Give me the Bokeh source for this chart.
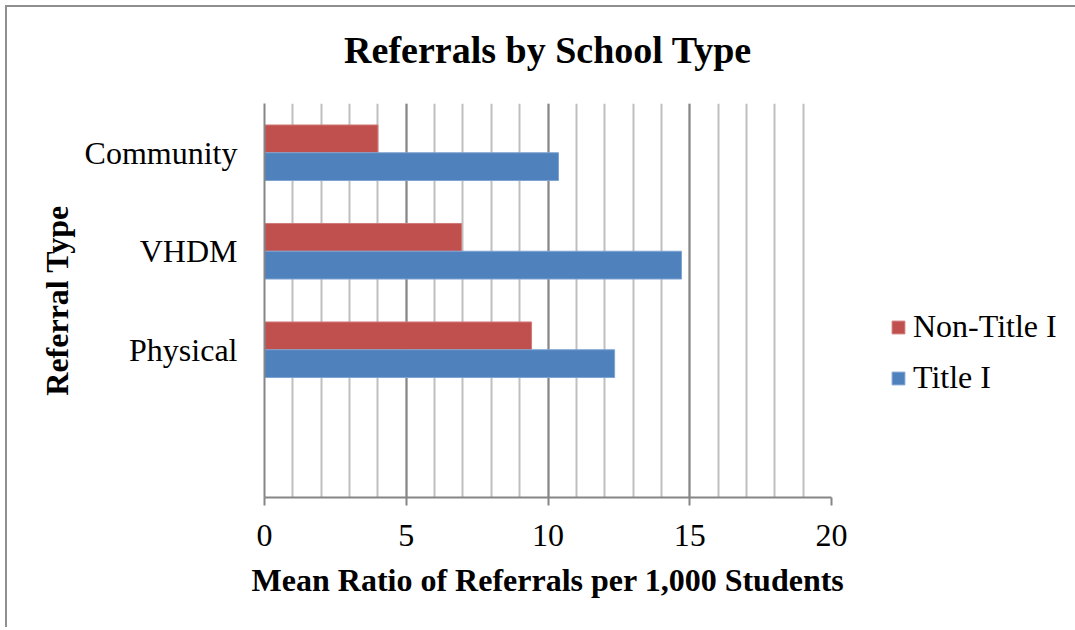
from bokeh.plotting import figure
from bokeh.models import FixedTicker, Legend, LegendItem, Title
from bokeh.transform import dodge
from bokeh.embed import file_html
from bokeh.resources import INLINE

# Data
categories = [" ", "Physical", "VHDM", "Community"]   # bottom slot is empty in the original
non_title_i = [0, 9.42, 6.95, 4.0]
title_i = [0, 12.35, 14.71, 10.37]
series_names = ["Non-Title I", "Title I"]
x_ticks = [0, 5, 10, 15, 20]
chart_title = "Referrals by School Type"

RED = "#C0504D"
BLUE = "#4F81BD"
FONT = "Liberation Serif"

data = dict(cat=categories[1:], non=non_title_i[1:], tit=title_i[1:])

p = figure(frame_width=567, frame_height=394, y_range=categories, x_range=(0, 20),
           output_backend="svg", toolbar_location=None,
           min_border_left=257, min_border_right=0,
           min_border_top=96, min_border_bottom=130,
           title=chart_title)
p.y_range.range_padding = 0
p.styles = {"margin-left": "5px", "margin-top": "5px",
            "border-left": "2px solid #8f8f8f", "border-top": "2px solid #8f8f8f"}
p.outline_line_color = None

bh = 0.282
r_non = p.hbar(y=dodge("cat", bh / 2, range=p.y_range), right="non", left=0, height=bh,
               source=data, fill_color=RED, line_color="#d07a78", line_width=1)
r_tit = p.hbar(y=dodge("cat", -bh / 2, range=p.y_range), right="tit", left=0, height=bh,
               source=data, fill_color=BLUE, line_color="#7ea3d2", line_width=1)

# spacer between the plot area and the title (white dot on white, not visible)
p.add_layout(Title(text=".", text_font_size="2px", text_color="white", standoff=30), "above")

# title
p.title.text_font = FONT
p.title.text_font_size = "38px"
p.title.text_font_style = "bold"
p.title.align = "center"
p.title.vertical_align = "bottom"
p.title.text_color = "black"
p.title.standoff = 0

# x axis
p.xaxis.ticker = FixedTicker(ticks=x_ticks, minor_ticks=list(range(0, 21)))
p.xaxis.axis_label = "Mean Ratio of Referrals per 1,000 Students"
p.xaxis.axis_label_text_font = FONT
p.xaxis.axis_label_text_font_size = "32px"
p.xaxis.axis_label_text_font_style = "bold"
p.xaxis.axis_label_text_color = "black"
p.xaxis.axis_label_standoff = 13
p.xaxis.major_label_text_font = FONT
p.xaxis.major_label_text_font_size = "32px"
p.xaxis.major_label_text_color = "black"
p.xaxis.major_label_standoff = 19
p.xaxis.axis_line_color = "#868686"
p.xaxis.axis_line_width = 2
p.xaxis.major_tick_line_color = "#868686"
p.xaxis.major_tick_line_width = 2
p.xaxis.major_tick_out = 8
p.xaxis.major_tick_in = 0
p.xaxis.minor_tick_out = 0
p.xaxis.minor_tick_in = 0

# y axis
p.yaxis.axis_label = "Referral Type"
p.yaxis.axis_label_text_font = FONT
p.yaxis.axis_label_text_font_size = "32px"
p.yaxis.axis_label_text_font_style = "bold"
p.yaxis.axis_label_text_color = "black"
p.yaxis.axis_label_standoff = 7
p.yaxis.major_label_text_font = FONT
p.yaxis.major_label_text_font_size = "32px"
p.yaxis.major_label_text_color = "black"
p.yaxis.major_label_standoff = 27
p.yaxis.axis_line_color = "#868686"
p.yaxis.axis_line_width = 2
p.yaxis.major_tick_line_color = None
p.yaxis.major_tick_out = 0
p.yaxis.major_tick_in = 0

# grid
p.ygrid.grid_line_color = None
p.xgrid.grid_line_color = "#868686"
p.xgrid.grid_line_width = 2
p.xgrid.minor_grid_line_color = "#bfbfbf"
p.xgrid.minor_grid_line_width = 2

legend = Legend(items=[LegendItem(label=series_names[0], renderers=[r_non]),
                       LegendItem(label=series_names[1], renderers=[r_tit])],
                location=(59, 101), padding=0, margin=0, spacing=14,
                glyph_width=16, glyph_height=16, label_standoff=7,
                label_text_font=FONT, label_text_font_size="32px",
                label_text_color="black",
                border_line_color=None, background_fill_alpha=0)
p.add_layout(legend, "right")

open("out.html", "w").write(file_html(p, INLINE))
